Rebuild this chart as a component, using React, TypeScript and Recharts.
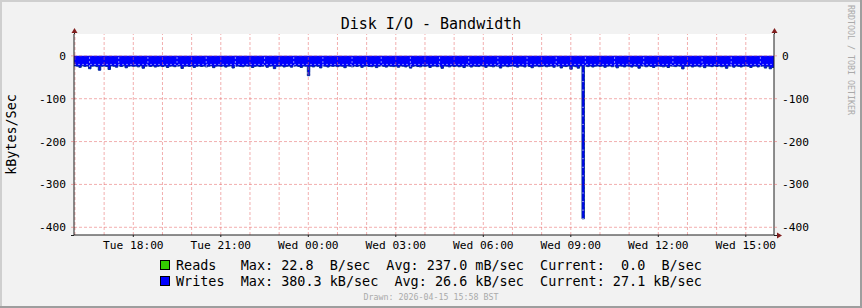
import {ComposedChart, Area, XAxis, YAxis, CartesianGrid, ReferenceLine} from 'recharts';

// 5-minute samples, Tue 15:58 -> Wed 15:58, values in kB/sec
const stepMinutes = 5;
const spanMinutes = 1440;
const minutesToFirstHour = 2; // first full hour (16:00) after the start

const writesKB: number[] = [
  23.4, 24.1, 26.8, 23.2, 24.5, 23.9, 30.2, 24.0, 23.6, 25.1, 33.5, 24.2,
  23.8, 24.6, 31.9, 23.5, 24.2, 26.4, 23.7, 24.9, 23.3, 27.8, 24.1, 23.6,
  24.4, 23.9, 25.6, 23.4, 28.9, 24.0, 23.8, 24.7, 23.5, 26.1, 24.3, 23.7,
  24.8, 23.6, 27.2, 24.1, 23.9, 25.3, 24.0, 23.5, 29.4, 24.2, 23.8, 24.6,
  23.7, 26.9, 24.3, 23.6, 24.8, 23.9, 25.7, 24.1, 23.4, 27.5, 24.0, 23.8,
  24.5, 23.7, 26.2, 24.0, 23.5, 28.3, 24.2, 23.9, 24.7, 25.4, 23.6, 24.1,
  23.9, 27.1, 24.4, 23.8, 25.0, 24.2, 23.5, 26.6, 24.0, 23.7, 29.8, 24.3,
  24.1, 23.6, 25.9, 24.5, 23.8, 26.3, 24.0, 23.5, 24.6, 27.0, 23.9, 24.2,
  46.3, 24.0, 25.8, 23.6, 24.4, 28.1, 23.9, 24.2, 26.0, 23.7, 24.5, 23.8,
  25.2, 23.9, 24.3, 27.6, 23.5, 24.1, 25.5, 23.8, 24.6, 23.4, 26.7, 24.0,
  23.7, 24.8, 25.3, 23.9, 27.4, 24.1, 23.6, 24.5, 26.2, 23.8, 24.3, 25.1,
  24.0, 26.5, 23.7, 24.2, 25.8, 23.9, 28.6, 24.4, 23.5, 24.9, 25.6, 23.8,
  24.3, 23.6, 26.9, 24.1, 23.8, 25.2, 24.5, 29.1, 23.9, 24.0, 25.7, 23.6,
  24.6, 23.8, 25.4, 24.0, 27.3, 23.7, 24.2, 26.1, 23.9, 24.4, 25.0, 23.5,
  24.1, 26.8, 23.9, 24.3, 25.6, 23.6, 24.7, 28.4, 24.0, 23.8, 25.3, 24.2,
  23.7, 24.5, 26.3, 23.9, 24.1, 25.9, 23.6, 24.8, 27.7, 24.0, 23.8, 25.2,
  24.4, 23.7, 25.5, 24.2, 23.9, 26.4, 24.1, 23.6, 28.2, 24.3, 25.0, 23.8,
  31.2, 24.0, 25.3, 28.7, 23.9, 380.3, 24.2, 25.1, 23.8, 26.0, 24.1, 23.7,
  24.5, 23.8, 26.6, 24.0, 23.6, 25.4, 24.3, 27.9, 23.9, 24.1, 25.8, 23.7,
  24.2, 26.1, 23.8, 24.4, 28.8, 23.9, 24.0, 25.5, 23.7, 24.6, 26.9, 24.1,
  23.9, 24.3, 25.7, 24.0, 27.2, 23.8, 24.5, 25.1, 23.6, 24.2, 30.4, 24.0,
  24.4, 23.7, 26.0, 24.1, 23.9, 25.6, 24.3, 27.5, 23.8, 24.0, 25.2, 23.6,
  24.7, 23.9, 25.4, 24.2, 29.0, 23.8, 24.1, 26.3, 23.7, 24.5, 25.9, 24.0,
  23.8, 24.4, 27.0, 24.1, 23.6, 25.8, 24.2, 23.9, 28.5, 24.3, 30.1, 27.1,
];

// reads are almost always zero; the few non-zero samples (kB/sec)
const readsNonZero: [number, number][] = [[37, 0.0228], [118, 0.0228], [203, 0.0228]];

const timeTicks = [122, 302, 482, 662, 842, 1022, 1202, 1382];
const timeLabels = ['Tue 18:00', 'Tue 21:00', 'Wed 00:00', 'Wed 03:00', 'Wed 06:00', 'Wed 09:00', 'Wed 12:00', 'Wed 15:00'];
const valueTicks = [0, -100, -200, -300, -400];

const legendRows = [
  {name: 'Reads', color: '#33cc00', text: 'Reads   Max: 22.8  B/sec  Avg: 237.0 mB/sec  Current:  0.0  B/sec'},
  {name: 'Writes', color: '#0000ff', text: 'Writes  Max: 380.3 kB/sec  Avg: 26.6 kB/sec  Current: 27.1 kB/sec'},
];

const reads = writesKB.map(() => 0);
readsNonZero.forEach(([i, v]) => (reads[i] = v));

const data = writesKB.map((w, i) => ({t: i * stepMinutes, writes: -w, reads: reads[i]}));
data.push({t: spanMinutes, writes: data[data.length - 1].writes, reads: reads[reads.length - 1]});

const hourLines: number[] = [];
const halfHourLines: number[] = [];
for (let t = minutesToFirstHour; t < spanMinutes; t += 60) {
  hourLines.push(t);
  if (t + 30 < spanMinutes) halfHourLines.push(t + 30);
}
const minorValueLines: number[] = [];
for (let v = 40; v >= -400; v -= 20) if (v % 100 !== 0) minorValueLines.push(v);

const mono = 'DejaVu Sans Mono';
const majorGrid = 'rgba(230,95,95,0.5)';
const minorGrid = 'rgba(255,255,255,0.5)';
const axisColor = '#1f1f1f';
const arrowColor = '#801f1f';

const tickStyle = {fontFamily: mono, fontSize: 11.2, fill: '#000'};

export default function App() {
  return (
    <div style={{position: 'absolute', left: 0, top: 0, width: 862, height: 308, background: '#f2f2f2'}}>
      <ComposedChart width={862} height={308} data={data} margin={{top: 34, right: 0, bottom: 0, left: 0}}>
        <CartesianGrid horizontal={false} vertical={false} fill="#ffffff" yAxisId="l" />
        <XAxis
          dataKey="t"
          type="number"
          domain={[0, spanMinutes]}
          allowDataOverflow
          ticks={timeTicks}
          tickFormatter={(v: number) => timeLabels[timeTicks.indexOf(v)] ?? ''}
          height={73}
          tick={tickStyle}
          tickSize={2}
          tickMargin={4}
          stroke={axisColor}
          interval={0}
        />
        <YAxis
          yAxisId="l"
          domain={[-418, 51]}
          allowDataOverflow
          ticks={valueTicks}
          width={74}
          tick={tickStyle}
          tickSize={3}
          tickMargin={5}
          stroke={axisColor}
          tickLine={{stroke: majorGrid}}
          interval={0}
        />
        <YAxis
          yAxisId="r"
          orientation="right"
          domain={[-418, 51]}
          allowDataOverflow
          ticks={valueTicks}
          width={88}
          tick={tickStyle}
          tickSize={3}
          tickMargin={5}
          stroke={axisColor}
          tickLine={{stroke: majorGrid}}
          interval={0}
        />
        <Area
          yAxisId="l"
          dataKey="writes"
          type="stepAfter"
          baseValue={0}
          fill="#0000ff"
          fillOpacity={1}
          stroke="#002a97"
          strokeWidth={1}
          dot={false}
          activeDot={false}
          isAnimationActive={false}
        />
        <Area
          yAxisId="l"
          dataKey="reads"
          type="stepAfter"
          baseValue={0}
          fill="#33cc00"
          fillOpacity={1}
          stroke="none"
          dot={false}
          activeDot={false}
          isAnimationActive={false}
        />
        {halfHourLines.map((t) => (
          <ReferenceLine key={'mx' + t} yAxisId="l" x={t} stroke={minorGrid} strokeDasharray="2 2" />
        ))}
        {minorValueLines.map((v) => (
          <ReferenceLine key={'my' + v} yAxisId="l" y={v} stroke={minorGrid} strokeDasharray="2 2" />
        ))}
        {hourLines.map((t) => (
          <ReferenceLine key={'hx' + t} yAxisId="l" x={t} stroke={majorGrid} strokeDasharray="3 2" />
        ))}
        {valueTicks.map((v) => (
          <ReferenceLine key={'hy' + v} yAxisId="l" y={v} stroke={majorGrid} strokeDasharray="3 2" />
        ))}
      </ComposedChart>

      <svg width={862} height={308} style={{position: 'absolute', left: 0, top: 0, pointerEvents: 'none'}}>
        {/* 3d frame */}
        <rect x={0} y={0} width={862} height={2} fill="#cfcfcf" />
        <rect x={0} y={0} width={2} height={308} fill="#cfcfcf" />
        <rect x={860} y={0} width={2} height={308} fill="#9e9e9e" />
        <rect x={0} y={306} width={862} height={2} fill="#9e9e9e" />

        {/* axis arrows */}
        <line x1={74.5} y1={30} x2={74.5} y2={34} stroke={axisColor} />
        <line x1={774.5} y1={30} x2={774.5} y2={34} stroke={axisColor} />
        <line x1={774} y1={235.5} x2={778} y2={235.5} stroke={axisColor} />
        <line x1={71} y1={235.5} x2={74} y2={235.5} stroke={axisColor} />
        <polygon points="74.5,28 71.5,33 77.5,33" fill={arrowColor} />
        <polygon points="774.5,28 771.5,33 777.5,33" fill={arrowColor} />
        <polygon points="782,235.5 777,232.5 777,238.5" fill={arrowColor} />

        <text x={431} y={29} textAnchor="middle" fontFamily={mono} fontSize={15} fill="#000">
          Disk I/O - Bandwidth
        </text>
        <text
          x={11}
          y={134.5}
          transform="rotate(-90 11 134.5)"
          textAnchor="middle"
          dominantBaseline="central"
          fontFamily={mono}
          fontSize={13.4}
          fill="#000"
        >
          kBytes/Sec
        </text>
        <text
          x={851}
          y={5}
          transform="rotate(90 851 5)"
          dominantBaseline="central"
          fontFamily={mono}
          fontSize={8.3}
          fill="#aaaaaa"
        >
          RRDTOOL / TOBI OETIKER
        </text>

        {legendRows.map((row, i) => (
          <g key={row.name}>
            <rect x={160.5} y={260.5 + i * 16} width={9} height={9} fill={row.color} stroke="#000" />
            <text x={176} y={270 + i * 16} fontFamily={mono} fontSize={13.45} fill="#000" style={{whiteSpace: 'pre'}}>
              {row.text}
            </text>
          </g>
        ))}
        <text x={431} y={300} textAnchor="middle" fontFamily={mono} fontSize={8.3} fill="#aaaaaa">
          Drawn: 2026-04-15 15:58 BST
        </text>
      </svg>
    </div>
  );
}
